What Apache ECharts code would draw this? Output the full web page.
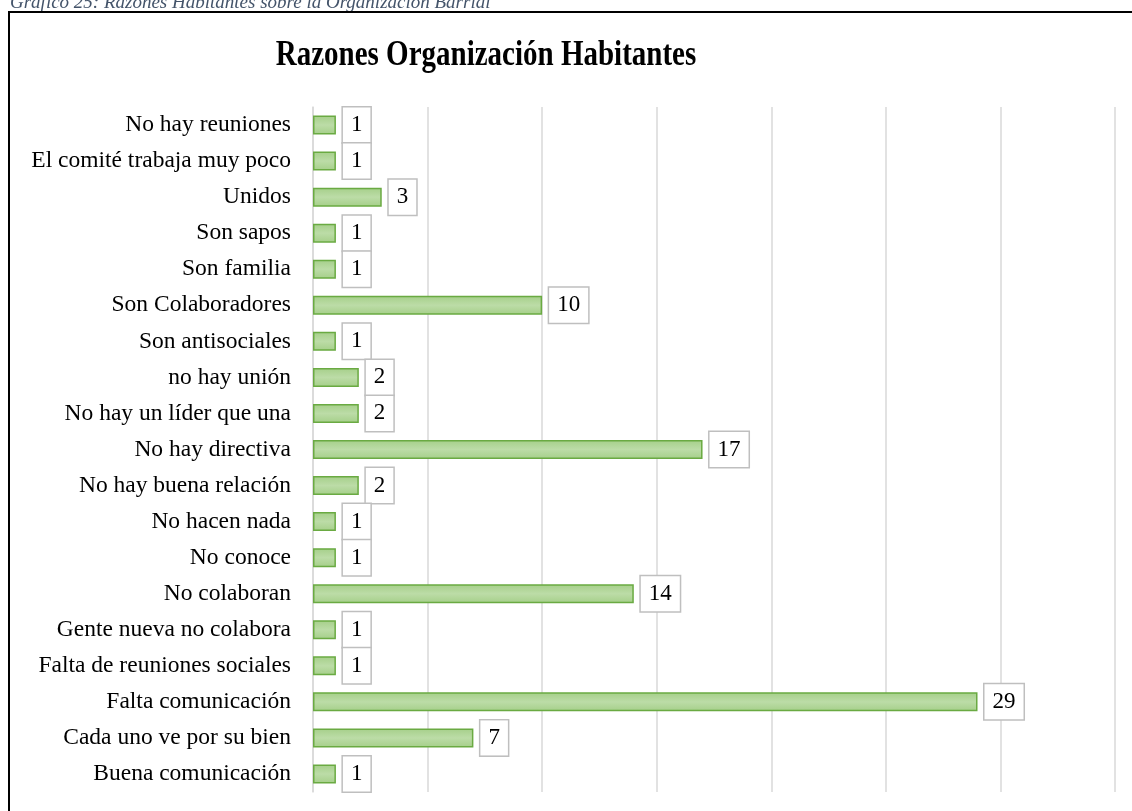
<!DOCTYPE html>
<html>
<head>
<meta charset="utf-8">
<script src="https://cdn.jsdelivr.net/npm/echarts@6/dist/echarts.min.js"></script>
<style>
html,body{margin:0;padding:0;background:#fff;}
#chart{width:1132px;height:811px;}
</style>
</head>
<body>
<div id="chart"></div>
<script>
const categories = [
  "No hay reuniones",
  "El comité trabaja muy poco",
  "Unidos",
  "Son sapos",
  "Son familia",
  "Son Colaboradores",
  "Son antisociales",
  "no hay unión",
  "No hay un líder que una",
  "No hay directiva",
  "No hay buena relación",
  "No hacen nada",
  "No conoce",
  "No colaboran",
  "Gente nueva no colabora",
  "Falta de reuniones sociales",
  "Falta comunicación",
  "Cada uno ve por su bien",
  "Buena comunicación"
];
const values = [1, 1, 3, 1, 1, 10, 1, 2, 2, 17, 2, 1, 1, 14, 1, 1, 29, 7, 1];
const titleText = "Razones Organización Habitantes";
const captionText = "Gráfico 25: Razones Habitantes sobre la Organización Barrial";

const serif = "'Liberation Serif', 'Times New Roman', serif";
const chart = echarts.init(document.getElementById('chart'), null, {renderer: 'canvas'});
chart.setOption({
  animation: false,
  backgroundColor: '#fff',
  graphic: [
    {
      type: 'rect',
      shape: {x: 9, y: 12, width: 1135, height: 810},
      style: {fill: 'none', stroke: '#000', lineWidth: 2},
      z: 100
    },
    {
      type: 'text',
      x: 10,
      y: -7,
      style: {text: captionText, font: "italic 19px 'Liberation Serif', serif", fill: '#44546A'},
      z: 99
    },
    {
      type: 'text',
      x: 486,
      y: 56,
      scaleY: 1.22,
      style: {
        text: titleText,
        x: 0, y: 0,
        align: 'center',
        verticalAlign: 'middle',
        font: "bold 29px 'Liberation Serif', serif",
        fill: '#000'
      },
      z: 99
    }
  ],
  grid: {left: 313, right: 17, top: 107, bottom: 19, containLabel: false},
  xAxis: {
    type: 'value',
    min: 0, max: 35, interval: 5,
    axisLabel: {show: false},
    axisLine: {show: false},
    axisTick: {show: false},
    splitLine: {show: true, lineStyle: {color: '#d9d9d9', width: 1.5}}
  },
  yAxis: {
    type: 'category',
    data: categories,
    inverse: true,
    axisLine: {show: true, lineStyle: {color: '#d9d9d9', width: 1.5}},
    axisTick: {show: false},
    axisLabel: {fontFamily: serif, fontSize: 23.5, color: '#000', margin: 22}
  },
  series: [{
    type: 'bar',
    data: values,
    barWidth: 19,
    itemStyle: {
      color: new echarts.graphic.LinearGradient(0, 0, 0, 1, [
        {offset: 0, color: '#a5cf89'},
        {offset: 0.5, color: '#bcdca7'},
        {offset: 1, color: '#a5cf89'}
      ]),
      borderColor: '#6aaa42',
      borderWidth: 1.5
    },
    label: {
      show: true,
      position: 'right',
      distance: 7,
      fontFamily: serif,
      fontSize: 23,
      lineHeight: 23,
      color: '#000',
      backgroundColor: '#fff',
      borderColor: '#bfbfbf',
      borderWidth: 1.5,
      padding: [6, 8, 6, 8]
    }
  }]
});
</script>
</body>
</html>
